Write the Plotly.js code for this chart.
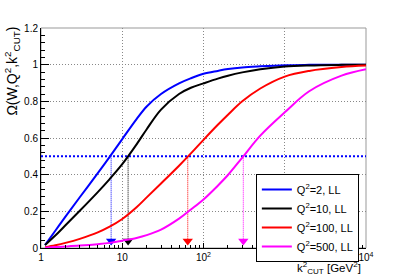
<!DOCTYPE html>
<html><head><meta charset="utf-8">
<script src="https://cdn.plot.ly/plotly-3.0.1.min.js"></script>
<style>html,body{margin:0;padding:0;background:#fff}#chart{width:407px;height:277px}</style>
</head><body><div id="chart"></div>
<script>
// k^2_CUT values (GeV^2)
const kcut = [1.12,1.5,2,3,5,7,10,15,20,30,50,70,100,150,200,300,500,1000,2000,5000,10000];
// Omega(W,Q^2,k^2_CUT) for each Q^2
const omegaQ2_2   = [0.016,0.094,0.171,0.277,0.408,0.497,0.594,0.703,0.772,0.84,0.898,0.926,0.95,0.966,0.976,0.985,0.991,0.997,0.999,1.0,1.0];
const omegaQ2_10  = [0.016,0.068,0.124,0.203,0.305,0.376,0.457,0.565,0.648,0.755,0.84,0.874,0.898,0.924,0.94,0.958,0.975,0.99,0.996,0.999,1.0];
const omegaQ2_100 = [0.004,0.015,0.028,0.05,0.085,0.116,0.158,0.222,0.276,0.352,0.449,0.516,0.59,0.672,0.727,0.80,0.87,0.935,0.966,0.987,0.995];
const omegaQ2_500 = [0.002,0.005,0.008,0.013,0.021,0.028,0.04,0.055,0.07,0.1,0.16,0.21,0.265,0.34,0.398,0.493,0.613,0.74,0.855,0.94,0.975];
const seriesNames = ["Q<sup>2</sup>=2, LL","Q<sup>2</sup>=10, LL","Q<sup>2</sup>=100, LL","Q<sup>2</sup>=500, LL"];
const seriesColors = ["#0000ff","#000000","#ff0000","#ff00ff"];
// k^2_CUT where Omega reaches one half
const halfLevel = 0.5;
const halfX = [7.3, 11.8, 64, 309];
const arrowY = 0.038;
const xRangeData = [1, 10000];
const xTickVals = [1,10,100,1000,10000];
const xTickText = ["1","10","10<sup>2</sup>","10<sup>3</sup>","10<sup>4</sup>"];

const font = "Liberation Sans, Arial, sans-serif";
const allY = [omegaQ2_2, omegaQ2_10, omegaQ2_100, omegaQ2_500];
const traces = [];
// half level line
traces.push({x: xRangeData, y: [halfLevel, halfLevel], mode:'lines', line:{color:'#0000ff', width:2, dash:'2px,2px'}, showlegend:false, hoverinfo:'skip'});
// arrows
halfX.forEach((hx,i)=>{
  traces.push({x:[hx,hx], y:[halfLevel, arrowY], mode:'lines', line:{color:seriesColors[i], width:1, dash:'1px,1px'}, showlegend:false, hoverinfo:'skip'});
  traces.push({x:[hx], y:[arrowY], mode:'markers', marker:{symbol:'triangle-down', size:9, color:seriesColors[i]}, showlegend:false, hoverinfo:'skip'});
});
allY.forEach((ys,i)=>{
  traces.push({x:kcut, y:ys, name:seriesNames[i], mode:'lines', line:{color:seriesColors[i], width:2, shape:'spline', smoothing:1}});
});

const grid = {showgrid:true, gridcolor:'#888', griddash:'1px,2px', gridwidth:1};
const layout = {
  width:407, height:277,
  margin:{l:41, r:41, t:28, b:29},
  paper_bgcolor:'#fff', plot_bgcolor:'#fff',
  font:{family:font, size:10, color:'#000'},
  showlegend:true,
  legend:{x:0.978, y:0.336, xanchor:'right', yanchor:'top', bgcolor:'#fff', bordercolor:'#000', borderwidth:1,
          font:{family:font, size:11, color:'#000'}, itemwidth:30, tracegroupgap:0},
  xaxis:Object.assign({type:'log', range:[0,4], tickvals:xTickVals, ticktext:xTickText, ticks:'inside', ticklen:5, tickcolor:'#000',
         showline:true, linecolor:'#000', linewidth:1, zeroline:false, tickfont:{family:font, size:10},
         minor:{ticks:'inside', ticklen:3, tickcolor:'#000', dtick:'D1', showgrid:false}}, grid),
  yaxis:Object.assign({range:[0,1.2], dtick:0.2, tick0:0, ticks:'inside', ticklen:8, tickcolor:'#000',
         showline:true, linecolor:'#000', linewidth:1, zeroline:false, tickfont:{family:font, size:10},
         minor:{ticks:'inside', ticklen:4, tickcolor:'#000', dtick:0.04, showgrid:false}}, grid),
  shapes:[{type:'rect', xref:'paper', yref:'paper', x0:0, x1:1, y0:0, y1:1, line:{color:'#999', width:1}, layer:'below'}],
  annotations:[
    {text:"Ω(W,Q<sup>2</sup>,k<sup>2</sup><sub>CUT</sub>)", xref:'paper', yref:'paper', x:-0.088, y:1.015, xanchor:'center', yanchor:'top', textangle:-90, showarrow:false, font:{family:font, size:14}},
    {text:"k<sup>2</sup><sub>CUT</sub> [GeV<sup>2</sup>]", xref:'paper', yref:'paper', x:0.99, y:-0.092, xanchor:'right', yanchor:'middle', showarrow:false, font:{family:font, size:11.5}}
  ]
};
Plotly.newPlot('chart', traces, layout, {staticPlot:true, displayModeBar:false});
</script>
</body></html>
